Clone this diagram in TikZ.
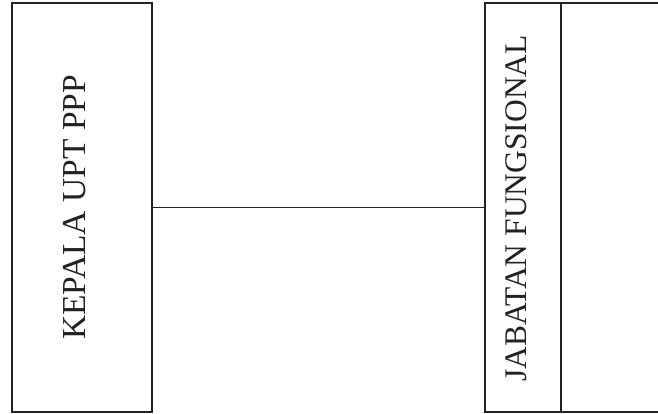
\documentclass[tikz,border=0pt]{standalone}
\usepackage{fontspec}
\setmainfont{Liberation Serif}
\usepackage{tikz}
\definecolor{orgInk}{HTML}{222222}

\tikzset{
  unitbox/.style={draw=orgInk, line width=1.6pt, rectangle, inner sep=0pt},
  unittext/.style={rotate=90, inner sep=0pt, text=orgInk},
  orgline/.style={draw=orgInk, line width=1.3pt}
}

\begin{document}
\begin{tikzpicture}[x=1pt, y=1pt]
  \useasboundingbox (0,0) rectangle (658,414);
  % Head of the unit
  \node[unitbox, minimum width=140pt, minimum height=409pt] (kepala) at (82,206.5) {};
  \node[unittext, font=\fontsize{33.5}{36}\selectfont] (kepalaText)
    at ([xshift=-7pt]kepala.center) {KEPALA UPT PPP};
  % Functional positions, with an empty cell beside
  \node[unitbox, minimum width=76pt, minimum height=409pt] (jabatan) at (523,206.5) {};
  \node[unitbox, minimum width=99pt, minimum height=409pt] (blank) at (610.5,206.5) {};
  \node[unittext, font=\fontsize{31.5}{34}\selectfont] (jabatanText)
    at ([xshift=-7pt,yshift=-1pt]jabatan.center) {JABATAN FUNGSIONAL};
  % Line of coordination
  \draw[orgline] (kepala.east) -- (jabatan.west);
\end{tikzpicture}
\end{document}
